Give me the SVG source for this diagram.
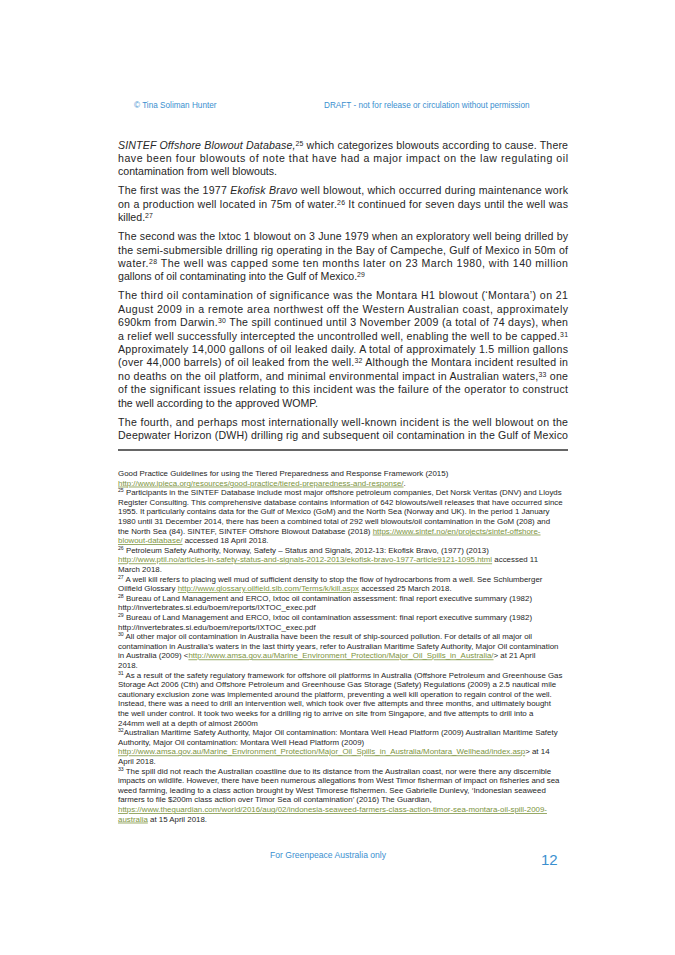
<svg xmlns="http://www.w3.org/2000/svg" width="675" height="955" viewBox="0 0 675 955">
<style>
.hd{font-family:"Liberation Sans",Arial,sans-serif;font-size:8.2px;fill:#3b8fcf}
.b{font-family:"Liberation Sans",Arial,sans-serif;font-size:10.6px;fill:#262626}
.f{font-family:"Liberation Sans",Arial,sans-serif;font-size:7.9px;fill:#262626}
.l{fill:#7d9440;text-decoration:underline}
.s{font-size:65%;baseline-shift:super}
</style>
<rect width="675" height="955" fill="#ffffff"/>
<g id="header">
<text class="hd" x="134" y="108">© Tina Soliman Hunter</text>
<text class="hd" x="324" y="108">DRAFT - not for release or circulation without permission</text>
</g>
<g id="body" class="b">
<text x="118" y="148.5" textLength="450" lengthAdjust="spacing"><tspan font-style="italic">SINTEF Offshore Blowout Database,</tspan><tspan class="s">25</tspan> which categorizes blowouts according to cause. There</text>
<text x="118" y="161.9" textLength="450" lengthAdjust="spacing">have been four blowouts of note that have had a major impact on the law regulating oil</text>
<text x="118" y="175.3">contamination from well blowouts.</text>
<text x="118" y="194.3" textLength="450" lengthAdjust="spacing">The first was the 1977 <tspan font-style="italic">Ekofisk Bravo</tspan> well blowout, which occurred during maintenance work</text>
<text x="118" y="207.7" textLength="450" lengthAdjust="spacing">on a production well located in 75m of water.<tspan class="s">26</tspan> It continued for seven days until the well was</text>
<text x="118" y="221.1">killed.<tspan class="s">27</tspan></text>
<text x="118" y="240.1" textLength="450" lengthAdjust="spacing">The second was the Ixtoc 1 blowout on 3 June 1979 when an exploratory well being drilled by</text>
<text x="118" y="253.5" textLength="450" lengthAdjust="spacing">the semi-submersible drilling rig operating in the Bay of Campeche, Gulf of Mexico in 50m of</text>
<text x="118" y="266.9" textLength="450" lengthAdjust="spacing">water.<tspan class="s">28</tspan> The well was capped some ten months later on 23 March 1980, with 140 million</text>
<text x="118" y="280.3">gallons of oil contaminating into the Gulf of Mexico.<tspan class="s">29</tspan></text>
<text x="118" y="299.3" textLength="450" lengthAdjust="spacing">The third oil contamination of significance was the Montara H1 blowout (‘Montara’) on 21</text>
<text x="118" y="312.7" textLength="450" lengthAdjust="spacing">August 2009 in a remote area northwest off the Western Australian coast, approximately</text>
<text x="118" y="326.1" textLength="450" lengthAdjust="spacing">690km from Darwin.<tspan class="s">30</tspan> The spill continued until 3 November 2009 (a total of 74 days), when</text>
<text x="118" y="339.5" textLength="450" lengthAdjust="spacing">a relief well successfully intercepted the uncontrolled well, enabling the well to be capped.<tspan class="s">31</tspan></text>
<text x="118" y="352.9" textLength="450" lengthAdjust="spacing">Approximately 14,000 gallons of oil leaked daily. A total of approximately 1.5 million gallons</text>
<text x="118" y="366.3" textLength="450" lengthAdjust="spacing">(over 44,000 barrels) of oil leaked from the well.<tspan class="s">32</tspan> Although the Montara incident resulted in</text>
<text x="118" y="379.7" textLength="450" lengthAdjust="spacing">no deaths on the oil platform, and minimal environmental impact in Australian waters,<tspan class="s">33</tspan> one</text>
<text x="118" y="393.1" textLength="450" lengthAdjust="spacing">of the significant issues relating to this incident was the failure of the operator to construct</text>
<text x="118" y="406.5">the well according to the approved WOMP.</text>
<text x="118" y="425.5" textLength="450" lengthAdjust="spacing">The fourth, and perhaps most internationally well-known incident is the well blowout on the</text>
<text x="118" y="438.9" textLength="450" lengthAdjust="spacing">Deepwater Horizon (DWH) drilling rig and subsequent oil contamination in the Gulf of Mexico</text>
</g>
<line x1="118" y1="450" x2="568" y2="450" stroke="#333" stroke-width="1.3"/>
<g id="footnotes" class="f">
<text x="118" y="476">Good Practice Guidelines for using the Tiered Preparedness and Response Framework (2015)</text>
<text x="118" y="485.6"><tspan class="l">http://www.ipieca.org/resources/good-practice/tiered-preparedness-and-response/</tspan>.</text>
<text x="118" y="495.2"><tspan class="s">25</tspan> Participants in the SINTEF Database include most major offshore petroleum companies, Det Norsk Veritas (DNV) and Lloyds</text>
<text x="118" y="504.8">Register Consulting. This comprehensive database contains information of 642 blowouts/well releases that have occurred since</text>
<text x="118" y="514.4">1955. It particularly contains data for the Gulf of Mexico (GoM) and the North Sea (Norway and UK). In the period 1 January</text>
<text x="118" y="524">1980 until 31 December 2014, there has been a combined total of 292 well blowouts/oil contamination in the GoM (208) and</text>
<text x="118" y="533.6">the North Sea (84). SINTEF, SINTEF Offshore Blowout Database (2018) <tspan class="l">https://www.sintef.no/en/projects/sintef-offshore-</tspan></text>
<text x="118" y="543.2"><tspan class="l">blowout-database/</tspan> accessed 18 April 2018.</text>
<text x="118" y="552.8"><tspan class="s">26</tspan> Petroleum Safety Authority, Norway, Safety – Status and Signals, 2012-13: Ekofisk Bravo, (1977) (2013)</text>
<text x="118" y="562.4"><tspan class="l">http://www.ptil.no/articles-in-safety-status-and-signals-2012-2013/ekofisk-bravo-1977-article9121-1095.html</tspan> accessed 11</text>
<text x="118" y="572">March 2018.</text>
<text x="118" y="581.6"><tspan class="s">27</tspan> A well kill refers to placing well mud of sufficient density to stop the flow of hydrocarbons from a well. See Schlumberger</text>
<text x="118" y="591.2">Oilfield Glossary <tspan class="l">http://www.glossary.oilfield.slb.com/Terms/k/kill.aspx</tspan> accessed 25 March 2018.</text>
<text x="118" y="600.8"><tspan class="s">28</tspan> Bureau of Land Management and ERCO, Ixtoc oil contamination assessment: final report executive summary (1982)</text>
<text x="118" y="610.4">http://invertebrates.si.edu/boem/reports/IXTOC_exec.pdf</text>
<text x="118" y="620"><tspan class="s">29</tspan> Bureau of Land Management and ERCO, Ixtoc oil contamination assessment: final report executive summary (1982)</text>
<text x="118" y="629.6">http://invertebrates.si.edu/boem/reports/IXTOC_exec.pdf</text>
<text x="118" y="639.2"><tspan class="s">30</tspan> All other major oil contamination in Australia have been the result of ship-sourced pollution.   For details of all major oil</text>
<text x="118" y="648.8">contamination in Australia’s waters in the last thirty years, refer to Australian Maritime Safety Authority, Major Oil contamination</text>
<text x="118" y="658.4">in Australia (2009) &lt;<tspan class="l">http://www.amsa.gov.au/Marine_Environment_Protection/Major_Oil_Spills_in_Australia/</tspan>&gt; at 21 April</text>
<text x="118" y="668">2018.</text>
<text x="118" y="677.6"><tspan class="s">31</tspan> As a result of the safety regulatory framework for offshore oil platforms in Australia (Offshore Petroleum and Greenhouse Gas</text>
<text x="118" y="687.2">Storage Act 2006 (Cth) and Offshore Petroleum and Greenhouse Gas Storage (Safety) Regulations (2009) a 2.5 nautical mile</text>
<text x="118" y="696.8">cautionary exclusion zone was implemented around the platform, preventing a well kill operation to regain control of the well.</text>
<text x="118" y="706.4">Instead, there was a need to drill an intervention well, which took over five attempts and three months, and ultimately bought</text>
<text x="118" y="716">the well under control. It took two weeks for a drilling rig to arrive on site from Singapore, and five attempts to drill into a</text>
<text x="118" y="725.6">244mm well at a depth of almost 2600m</text>
<text x="118" y="735.2"><tspan class="s">32</tspan>Australian Maritime Safety Authority, Major Oil contamination: Montara Well Head Platform (2009) Australian Maritime Safety</text>
<text x="118" y="744.8">Authority, Major Oil contamination: Montara Well Head Platform (2009)</text>
<text x="118" y="754.4"><tspan class="l">http://www.amsa.gov.au/Marine_Environment_Protection/Major_Oil_Spills_in_Australia/Montara_Wellhead/index.asp</tspan>&gt; at 14</text>
<text x="118" y="764">April 2018.</text>
<text x="118" y="773.6"><tspan class="s">33</tspan> The spill did not reach the Australian coastline due to its distance from the Australian coast, nor were there any discernible</text>
<text x="118" y="783.2">impacts on wildlife. However, there have been numerous allegations from West Timor fisherman of impact on fisheries and sea</text>
<text x="118" y="792.8">weed farming, leading to a class action brought by West Timorese fishermen. See Gabrielle Dunlevy, ‘Indonesian seaweed</text>
<text x="118" y="802.4">farmers to file $200m class action over Timor Sea oil contamination’ (2016) The Guardian,</text>
<text x="118" y="812"><tspan class="l">https://www.theguardian.com/world/2016/aug/02/indonesia-seaweed-farmers-class-action-timor-sea-montara-oil-spill-2009-</tspan></text>
<text x="118" y="821.6"><tspan class="l">australia</tspan> at 15 April 2018.</text>
</g>
<g id="footer">
<text class="hd" x="270" y="858" style="font-size:8.6px">For Greenpeace Australia only</text>
<text class="hd" x="541" y="865" style="font-size:15px">12</text>
</g>
</svg>
